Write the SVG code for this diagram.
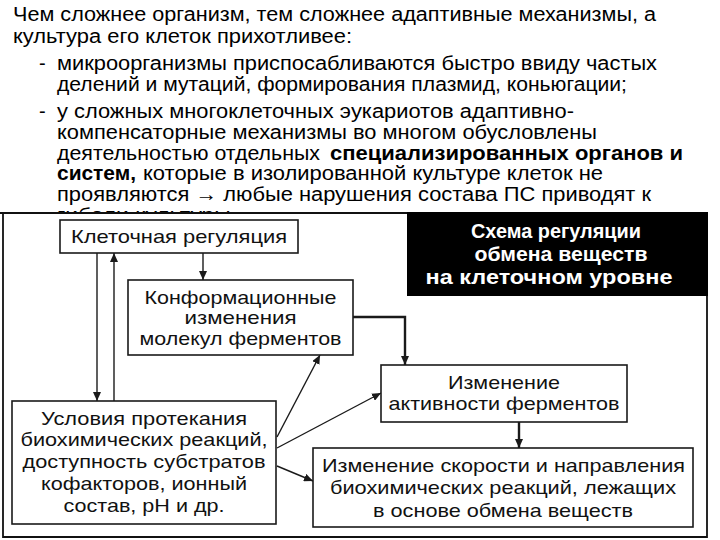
<svg xmlns="http://www.w3.org/2000/svg" width="720" height="540" viewBox="0 0 720 540">
<style>
.t{font-family:"Liberation Sans",Arial,sans-serif;font-size:20px;fill:#000}
.b{font-weight:bold}
.d{font-family:"Liberation Sans",Arial,sans-serif;font-size:19px;fill:#111}
.box{fill:#fff;stroke:#1a1a1a;stroke-width:1.6}
.ln{fill:none;stroke:#1a1a1a;stroke-width:1.4}
.thick{stroke-width:2.4}
.frame{fill:none;stroke:#111;stroke-width:1.8}
.ttl{font-family:"Liberation Sans",Arial,sans-serif;font-size:20px;font-weight:bold;fill:#fff;text-anchor:middle}
</style>
<defs>
<marker id="ah" markerWidth="9" markerHeight="8" refX="9" refY="4" orient="auto" markerUnits="userSpaceOnUse">
<path d="M0,0 L9,4 L0,8 Z" fill="#1a1a1a"/>
</marker>
</defs>
<rect width="720" height="540" fill="#fff"/>
<g id="intro-text">
<text class="t" x="13" y="21" textLength="643" lengthAdjust="spacingAndGlyphs">Чем сложнее организм, тем сложнее адаптивные механизмы, а</text>
<text class="t" x="13" y="43" textLength="339" lengthAdjust="spacingAndGlyphs">культура его клеток прихотливее:</text>
<text class="t" x="39" y="70">-</text>
<text class="t" x="57" y="70" textLength="600" lengthAdjust="spacingAndGlyphs">микроорганизмы приспосабливаются быстро ввиду частых</text>
<text class="t" x="57" y="91" textLength="570" lengthAdjust="spacingAndGlyphs">делений и мутаций, формирования плазмид, коньюгации;</text>
<text class="t" x="39" y="118">-</text>
<text class="t" x="57" y="118" textLength="517" lengthAdjust="spacingAndGlyphs">у сложных многоклеточных эукариотов адаптивно-</text>
<text class="t" x="57" y="139" textLength="540" lengthAdjust="spacingAndGlyphs">компенсаторные механизмы во многом обусловлены</text>
<text class="t" x="57" y="160" textLength="263" lengthAdjust="spacingAndGlyphs">деятельностью отдельных</text>
<text class="t b" x="330" y="160" textLength="353" lengthAdjust="spacingAndGlyphs">специализированных органов и</text>
<text class="t b" x="57" y="180" textLength="79" lengthAdjust="spacingAndGlyphs">систем,</text>
<text class="t" x="143" y="180" textLength="460" lengthAdjust="spacingAndGlyphs">которые в изолированной культуре клеток не</text>
<text class="t" x="57" y="201" textLength="594" lengthAdjust="spacingAndGlyphs">проявляются → любые нарушения состава ПС приводят к</text>
<text class="t" x="57" y="222" textLength="180" lengthAdjust="spacingAndGlyphs">гибели культуры.</text>
</g>
<rect x="0" y="213.5" width="712" height="327" fill="#fff"/>
<g id="frame">
<path class="frame" d="M0,213 H407 M3,213 V537 H707 V296"/>
</g>
<g id="title">
<rect x="407" y="212" width="301" height="84" fill="#000"/>
<text class="ttl" x="556" y="238" textLength="170" lengthAdjust="spacingAndGlyphs">Схема регуляции</text>
<text class="ttl" x="561" y="261" textLength="173" lengthAdjust="spacingAndGlyphs">обмена веществ</text>
<text class="ttl" x="549" y="284" textLength="247" lengthAdjust="spacingAndGlyphs">на клеточном уровне</text>
</g>
<g id="connectors">
<line class="ln" x1="203" y1="253" x2="203" y2="280" marker-end="url(#ah)"/>
<line class="ln" x1="97" y1="253" x2="97" y2="401" marker-end="url(#ah)"/>
<line class="ln" x1="114" y1="401" x2="114" y2="253" marker-end="url(#ah)"/>
<path class="ln thick" d="M353,317 H405 V365" marker-end="url(#ah)"/>
<line class="ln" x1="277" y1="437" x2="320" y2="355" marker-end="url(#ah)"/>
<line class="ln" x1="277" y1="448" x2="381" y2="393" marker-end="url(#ah)"/>
<line class="ln" x1="277" y1="466" x2="313" y2="481" marker-end="url(#ah)"/>
<line class="ln thick" x1="519" y1="422" x2="519" y2="448" marker-end="url(#ah)"/>
</g>
<g id="node-kletochnaya">
<rect class="box" x="60" y="220" width="238" height="33"/>
<text class="d" x="71" y="243" textLength="216" lengthAdjust="spacingAndGlyphs">Клеточная регуляция</text>
</g>
<g id="node-konform">
<rect class="box" x="128" y="280" width="225" height="75"/>
<text class="d" x="144.5" y="304" textLength="192" lengthAdjust="spacingAndGlyphs">Конформационные</text>
<text class="d" x="184.5" y="324" textLength="112" lengthAdjust="spacingAndGlyphs">изменения</text>
<text class="d" x="139.5" y="345" textLength="202" lengthAdjust="spacingAndGlyphs">молекул ферментов</text>
</g>
<g id="node-aktivnost">
<rect class="box" x="381" y="365" width="246" height="57"/>
<text class="d" x="448" y="389" textLength="112" lengthAdjust="spacingAndGlyphs">Изменение</text>
<text class="d" x="388.5" y="410" textLength="231" lengthAdjust="spacingAndGlyphs">активности ферментов</text>
</g>
<g id="node-usloviya">
<rect class="box" x="12" y="401" width="264" height="123"/>
<text class="d" x="41" y="425" textLength="206" lengthAdjust="spacingAndGlyphs">Условия протекания</text>
<text class="d" x="20.5" y="446" textLength="247" lengthAdjust="spacingAndGlyphs">биохимических реакций,</text>
<text class="d" x="22.5" y="468" textLength="243" lengthAdjust="spacingAndGlyphs">доступность субстратов</text>
<text class="d" x="41" y="490" textLength="206" lengthAdjust="spacingAndGlyphs">кофакторов, ионный</text>
<text class="d" x="63.5" y="512" textLength="161" lengthAdjust="spacingAndGlyphs">состав, рН и др.</text>
</g>
<g id="node-skorost">
<rect class="box" x="313" y="448" width="380" height="79"/>
<text class="d" x="322" y="472" textLength="363" lengthAdjust="spacingAndGlyphs">Изменение скорости и направления</text>
<text class="d" x="330" y="494" textLength="346" lengthAdjust="spacingAndGlyphs">биохимических реакций, лежащих</text>
<text class="d" x="373" y="517" textLength="260" lengthAdjust="spacingAndGlyphs">в основе обмена веществ</text>
</g>
</svg>
